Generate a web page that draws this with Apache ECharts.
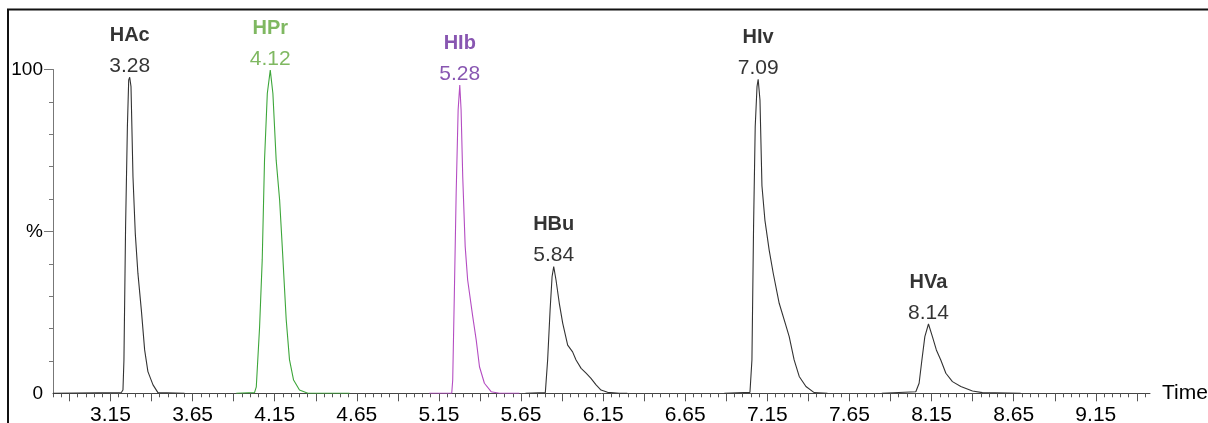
<!DOCTYPE html>
<html>
<head>
<meta charset="utf-8">
<style>
html,body{margin:0;padding:0;background:#fff;}
#chart{width:1208px;height:423px;}
</style>
<script src="https://cdn.jsdelivr.net/npm/echarts@6/dist/echarts.min.js"></script>
</head>
<body>
<div id="chart"></div>
<script>
// ---- data: retention time (min), relative abundance (%) ----
const hacTrace = [[2.80,0],[3.216,0.25],[3.226,1.0],[3.232,10.3],[3.242,51.5],[3.253,82.3],[3.261,96.8],[3.267,97.6],[3.275,94.7],[3.287,66.9],[3.301,49.4],[3.317,37.1],[3.338,25.7],[3.358,13.4],[3.378,6.7],[3.409,2.6],[3.439,0.2],[3.601,0]];
const hprTrace = [[3.916,0],[4.027,0.2],[4.038,2.0],[4.058,20.5],[4.074,41.2],[4.088,72.0],[4.105,92.6],[4.123,99.8],[4.139,92.6],[4.159,72.0],[4.180,59.7],[4.196,45.3],[4.220,22.8],[4.240,10.4],[4.265,4.1],[4.301,1.0],[4.352,0],[4.606,0]];
const hibTrace = [[5.092,0],[5.228,0],[5.234,4.1],[5.244,30.9],[5.255,61.8],[5.267,87.5],[5.277,95.2],[5.285,87.5],[5.295,66.9],[5.310,45.3],[5.325,35.0],[5.356,23.7],[5.377,16.5],[5.397,8.2],[5.427,3.1],[5.468,0.5],[5.518,0],[5.640,0]];
const hbuTrace = [[5.677,0],[5.798,0.2],[5.812,10.3],[5.827,25.7],[5.839,36.0],[5.849,39.1],[5.863,35.0],[5.883,27.8],[5.904,21.6],[5.934,14.9],[5.964,12.8],[5.985,10.3],[6.016,7.7],[6.046,6.2],[6.076,4.6],[6.107,2.6],[6.137,1.0],[6.177,0.3],[6.249,0],[6.297,0]];
const hivTrace = [[6.888,0],[7.044,0.3],[7.056,10.3],[7.066,51.5],[7.076,82.3],[7.087,94.7],[7.094,97.0],[7.105,90.6],[7.117,64.1],[7.135,53.5],[7.161,44.2],[7.186,37.0],[7.222,27.8],[7.259,21.6],[7.283,17.5],[7.313,10.3],[7.344,5.2],[7.385,2.1],[7.435,0.2],[7.516,0]];
const hvaTrace = [[7.847,0],[8.054,0.5],[8.074,3.1],[8.091,10.3],[8.109,17.5],[8.131,21.4],[8.155,17.5],[8.179,13.4],[8.206,10.3],[8.237,6.2],[8.277,3.6],[8.328,2.1],[8.399,0.7],[8.459,0.2],[8.693,0]];

const peakNames = ['HAc','HPr','HIb','HBu','HIv','HVa'];
const peakTimeLabels = ['3.28','4.12','5.28','5.84','7.09','8.14'];
const xTickLabels = [3.15,3.65,4.15,4.65,5.15,5.65,6.15,6.65,7.15,7.65,8.15,8.65,9.15];
const yTickLabels = {0:'0',50:'%',100:'100'};
const xMin = 2.80, xMax = 9.48;

// ---- styles ----
const traces = [hacTrace,hprTrace,hibTrace,hbuTrace,hivTrace,hvaTrace];
const lineColors = ['#333','#3da63a','#b44cc2','#333','#333','#333'];
const textColors = ['#000','#5fa63a','#6a2c9e','#000','#000','#000'];
const FONT = 'Liberation Sans, Arial, sans-serif';

function range(a,b,step){const r=[];const n=Math.round((b-a)/step);for(let i=0;i<=n;i++)r.push(+(a+i*step).toFixed(4));return r;}
const majorX = range(2.90, 9.40, 0.25);
const minorX = range(2.80, 9.45, 0.05);

const series = [];
traces.forEach((tr,i)=>{
  series.push({type:'line',data:tr,showSymbol:false,symbol:'none',smooth:false,
    lineStyle:{color:lineColors[i],width:1.1},xAxisIndex:0,yAxisIndex:0,z:3,animation:false});
  let apex = tr[0];
  tr.forEach(p=>{if(p[1]>apex[1])apex=p;});
  series.push({type:'scatter',data:[apex],symbolSize:0,xAxisIndex:0,yAxisIndex:0,z:4,animation:false,silent:true,
    label:{show:true,position:'top',distance:1,color:textColors[i],textBorderWidth:0,
      formatter:'{n|'+peakNames[i]+'}\n{v|'+peakTimeLabels[i]+'}',
      rich:{
        n:{fontFamily:FONT,fontWeight:'bold',fontSize:20,color:textColors[i],lineHeight:42,align:'center',textBorderWidth:0},
        v:{fontFamily:FONT,fontSize:21,color:textColors[i],lineHeight:20,align:'center',textBorderWidth:0}
      }}});
});

const chart = echarts.init(document.getElementById('chart'),null,{renderer:'canvas'});
chart.setOption({
  animation:false,
  backgroundColor:'#fff',
  grid:{left:53,right:58,top:69.5,bottom:29.7,containLabel:false,outerBoundsMode:'none'},
  xAxis:[
    {type:'value',min:xMin,max:xMax,name:'Time',nameLocation:'end',nameGap:12,
     nameTextStyle:{fontFamily:FONT,fontSize:21,color:'#000',verticalAlign:'middle'},
     axisLine:{show:true,lineStyle:{color:'#444',width:1}},
     axisTick:{show:true,customValues:majorX,length:8,lineStyle:{color:'#555'}},
     axisLabel:{show:true,customValues:xTickLabels,margin:11,fontFamily:FONT,fontSize:21,color:'#000',
       formatter:v=>v.toFixed(2)},
     splitLine:{show:false}},
    {type:'value',min:xMin,max:xMax,position:'bottom',
     axisLine:{show:false},
     axisTick:{show:true,customValues:minorX,length:4,lineStyle:{color:'#555'}},
     axisLabel:{show:false},splitLine:{show:false}}
  ],
  yAxis:[
    {type:'value',min:0,max:100,position:'left',
     axisLine:{show:true,lineStyle:{color:'#777',width:1}},
     axisTick:{show:true,customValues:[50,100],length:9,lineStyle:{color:'#777'}},
     axisLabel:{show:true,customValues:[0,50,100],margin:10,fontFamily:FONT,fontSize:19,color:'#000',
       formatter:v=>yTickLabels[v]},
     splitLine:{show:false}},
    {type:'value',min:0,max:100,position:'left',offset:0,
     axisLine:{show:false},
     axisTick:{show:true,customValues:[10,20,30,40,60,70,80,90],length:4,lineStyle:{color:'#777'}},
     axisLabel:{show:false},splitLine:{show:false}}
  ],
  graphic:[
    {type:'line',shape:{x1:7,y1:9.5,x2:1208,y2:9.5},style:{stroke:'#111',lineWidth:2},silent:true},
    {type:'line',shape:{x1:8,y1:9,x2:8,y2:423},style:{stroke:'#111',lineWidth:2},silent:true}
  ],
  series:series
});
</script>
</body>
</html>
